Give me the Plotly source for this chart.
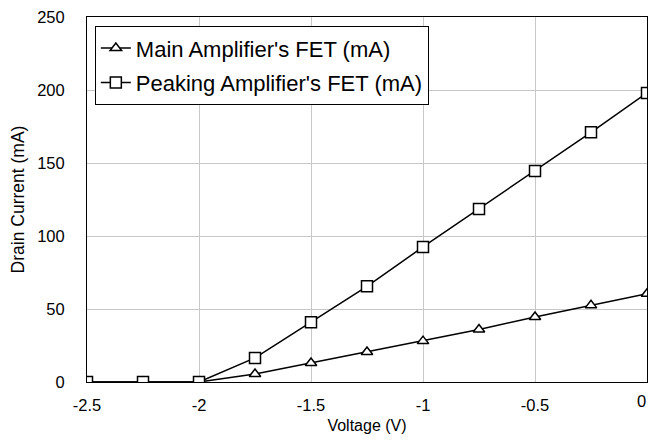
import plotly.graph_objects as go

# Gate voltage sweep (V)
voltage = [-2.5, -2.25, -2.0, -1.75, -1.5, -1.25, -1.0, -0.75, -0.5, -0.25, 0.0]

# Drain currents (mA)
main_fet_ma = [0, 0, 0, 5.5, 13, 20.5, 28, 36, 44.5, 52.5, 60.5]
peaking_fet_ma = [0, 0, 0, 16.5, 41, 65.5, 92.5, 118.5, 144.5, 171, 198]

x_ticks = [-2.5, -2.0, -1.5, -1.0, -0.5]
x_tick_labels = ["-2.5", "-2", "-1.5", "-1", "-0.5"]
y_ticks = [0, 50, 100, 150, 200, 250]

font_family = "Liberation Sans, Arial, sans-serif"
tick_size = 16.5

fig = go.Figure()
fig.add_trace(go.Scatter(
    x=voltage, y=main_fet_ma, mode="lines+markers",
    name="Main Amplifier's FET (mA)", legendgroup="a",
    line=dict(color="black", width=1.5),
    marker=dict(symbol="triangle-up", size=10, color="white",
                line=dict(color="black", width=1.5)),
))
fig.add_trace(go.Scatter(
    x=voltage, y=peaking_fet_ma, mode="lines+markers",
    name="Peaking Amplifier's FET (mA)", legendgroup="b",
    line=dict(color="black", width=1.5),
    marker=dict(symbol="square", size=11, color="white",
                line=dict(color="black", width=1.5)),
))

# the last tick label sits against the right edge of the figure
fig.add_annotation(
    x=0.0, y=0, xref="x", yref="paper", text="0", showarrow=False,
    xanchor="right", yanchor="top", xshift=1, yshift=-8,
    font=dict(size=tick_size, family=font_family),
)

fig.update_layout(
    width=648, height=441,
    margin=dict(l=87, r=1, t=17, b=59),
    paper_bgcolor="white", plot_bgcolor="white",
    font=dict(family=font_family, color="black", size=tick_size),
    legend=dict(
        x=0.014, y=0.975, xanchor="left", yanchor="top",
        bgcolor="white", bordercolor="black", borderwidth=1,
        font=dict(size=22, family=font_family),
        traceorder="grouped", tracegroupgap=3,
        itemwidth=30,
    ),
    xaxis=dict(
        range=[-2.5, 0], tickvals=x_ticks, ticktext=x_tick_labels,
        showgrid=True, gridcolor="#c8c8c8", gridwidth=1,
        showline=True, linecolor="black", linewidth=1, mirror=True,
        zeroline=False, ticks="", ticklabelstandoff=8,
        title=dict(text="Voltage (V)", font=dict(size=16), standoff=7),
        tickfont=dict(size=tick_size),
    ),
    yaxis=dict(
        range=[0, 250], tickvals=y_ticks,
        showgrid=True, gridcolor="#c8c8c8", gridwidth=1,
        showline=True, linecolor="black", linewidth=1, mirror=True,
        zeroline=False, ticks="", ticklabelstandoff=18,
        title=dict(text="Drain Current (mA)", font=dict(size=17.5), standoff=8),
        tickfont=dict(size=tick_size),
    ),
)

fig.write_html("out.html")
